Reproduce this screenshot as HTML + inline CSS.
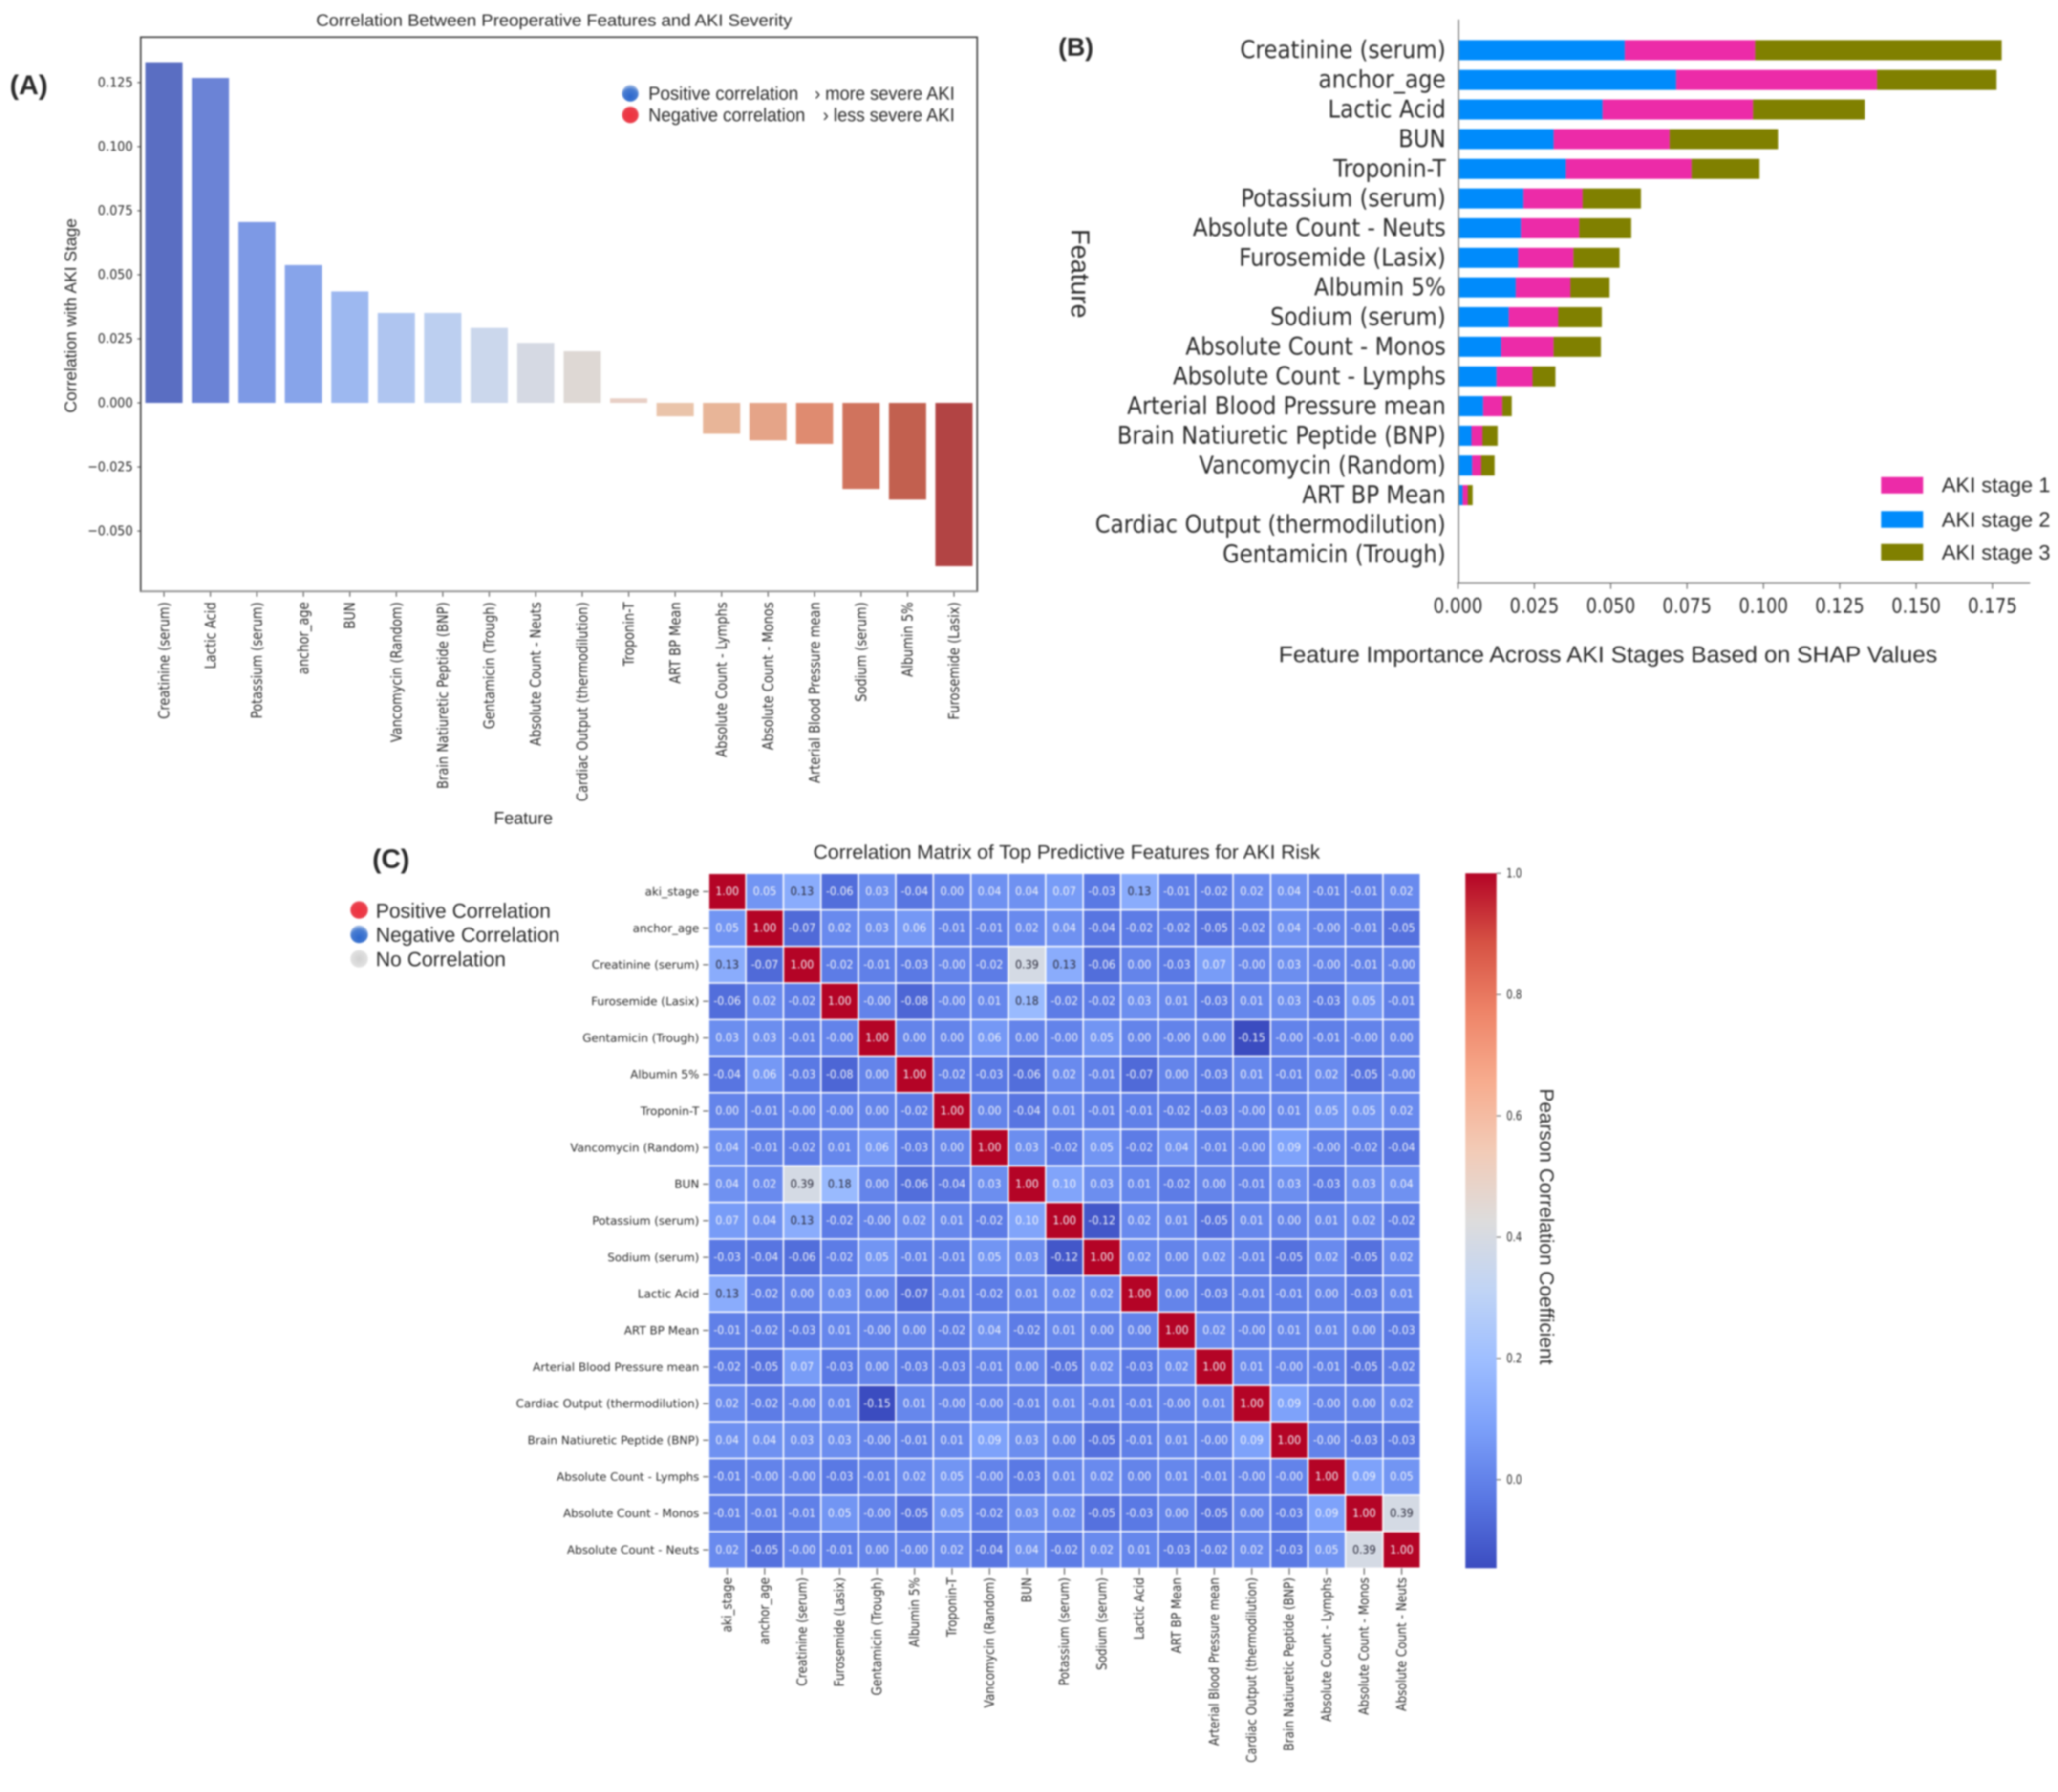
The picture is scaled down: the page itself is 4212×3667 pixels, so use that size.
<!DOCTYPE html>
<html lang="en">
<head>
<meta charset="utf-8">
<title>AKI Feature Analysis</title>
<style>
html,body{margin:0;padding:0;background:#fff;width:4212px;height:3667px;overflow:hidden}
svg{display:block;filter:blur(1.8px)}
text{font-family:"Liberation Sans",sans-serif;fill:#2a2a2a}
text.dv{font-family:"DejaVu Sans","Liberation Sans",sans-serif}
</style>
</head>
<body>
<svg id="figure" xmlns="http://www.w3.org/2000/svg" width="4212" height="3667" viewBox="0 0 4212 3667">
  <defs>
    <radialGradient id="dotBlue" cx="50%" cy="70%" r="65%"><stop offset="0%" stop-color="#2b66cc"/><stop offset="70%" stop-color="#4a7ed2"/><stop offset="100%" stop-color="#9db8e4"/></radialGradient>
    <radialGradient id="dotRed" cx="50%" cy="55%" r="60%"><stop offset="0%" stop-color="#f0323f"/><stop offset="75%" stop-color="#ea3f4c"/><stop offset="100%" stop-color="#f08a90"/></radialGradient>
    <radialGradient id="dotGray" cx="50%" cy="50%" r="60%"><stop offset="0%" stop-color="#d0d0d0"/><stop offset="100%" stop-color="#e6e6e6"/></radialGradient>
    <linearGradient id="cbarGradient" x1="0" y1="1" x2="0" y2="0">
      <stop offset="0" stop-color="#3b4cc0"/><stop offset=".1" stop-color="#5977e3"/><stop offset=".2" stop-color="#7b9ff9"/><stop offset=".3" stop-color="#9ebeff"/><stop offset=".4" stop-color="#c0d4f5"/><stop offset=".5" stop-color="#dddcdc"/><stop offset=".6" stop-color="#f2cbb7"/><stop offset=".7" stop-color="#f7ac8e"/><stop offset=".8" stop-color="#ee8468"/><stop offset=".9" stop-color="#d65244"/><stop offset="1" stop-color="#b40426"/>
    </linearGradient>
  </defs>

  <!-- Panel A -->
  <g id="panelA">
    <text x="20" y="193" font-size="56" font-weight="bold">(A)</text>
    <text x="1134" y="53" font-size="34" text-anchor="middle" textLength="974" lengthAdjust="spacingAndGlyphs">Correlation Between Preoperative Features and AKI Severity</text>
    <text transform="translate(156,646) rotate(-90)" font-size="34" text-anchor="middle" textLength="398" lengthAdjust="spacingAndGlyphs">Correlation with AKI Stage</text>
    <text x="1071" y="1686" font-size="35" text-anchor="middle">Feature</text>
    <g id="aMarks"></g>
    <g id="aAxes"></g>
    <rect x="288" y="76" width="1712" height="1134" fill="none" stroke="#333" stroke-width="3"/>
    <line x1="288" y1="1210" x2="2000" y2="1210" stroke="#999" stroke-width="4"/>
    <g>
      <g>
        <circle cx="1290" cy="191" r="17" fill="url(#dotBlue)"/>
        <text x="1327" y="204" font-size="38" textLength="307" lengthAdjust="spacingAndGlyphs">Positive correlation</text>
        <text x="1954" y="204" font-size="38" text-anchor="end" textLength="287" lengthAdjust="spacingAndGlyphs">› more severe AKI</text>
      </g>
      <g>
        <circle cx="1290" cy="235" r="17" fill="url(#dotRed)"/>
        <text x="1327" y="248" font-size="38" textLength="321" lengthAdjust="spacingAndGlyphs">Negative correlation</text>
        <text x="1954" y="248" font-size="38" text-anchor="end" textLength="270" lengthAdjust="spacingAndGlyphs">› less severe AKI</text>
      </g>
    </g>
  </g>

  <!-- Panel B -->
  <g id="panelB">
    <text x="2166" y="114" font-size="52" font-weight="bold">(B)</text>
    <text transform="translate(2193,560) rotate(90)" font-size="53" text-anchor="middle">Feature</text>
    <text x="3291" y="1355" font-size="46" text-anchor="middle" textLength="1348" lengthAdjust="spacingAndGlyphs">Feature Importance Across AKI Stages Based on SHAP Values</text>
    <g id="bMarks"></g>
    <g id="bAxes"></g>
    <line x1="2985" y1="40" x2="2985" y2="1192" stroke="#8a8a8a" stroke-width="3"/>
    <line x1="2982" y1="1193" x2="4155" y2="1193" stroke="#777" stroke-width="3"/>
    <g>
      <g>
        <rect x="3850" y="976" width="86" height="34" fill="#ec2ba8"/>
        <text x="3974" y="1007" font-size="43">AKI stage 1</text>
      </g>
      <g>
        <rect x="3850" y="1046" width="86" height="34" fill="#008bfb"/>
        <text x="3974" y="1078" font-size="43">AKI stage 2</text>
      </g>
      <g>
        <rect x="3850" y="1113" width="86" height="34" fill="#808000"/>
        <text x="3974" y="1145" font-size="43">AKI stage 3</text>
      </g>
    </g>
  </g>

  <!-- Panel C -->
  <g id="panelC">
    <text x="762" y="1776" font-size="55" font-weight="bold">(C)</text>
    <text x="2183" y="1757" font-size="40" text-anchor="middle" textLength="1037" lengthAdjust="spacingAndGlyphs">Correlation Matrix of Top Predictive Features for AKI Risk</text>
    <g>
      <g>
        <circle cx="735" cy="1862" r="18" fill="url(#dotRed)"/>
        <text x="769" y="1878" font-size="41.3">Positive Correlation</text>
      </g>
      <g>
        <circle cx="735" cy="1912" r="18" fill="url(#dotBlue)"/>
        <text x="769" y="1927" font-size="41.3">Negative Correlation</text>
      </g>
      <g>
        <circle cx="735" cy="1962" r="18" fill="url(#dotGray)"/>
        <text x="769" y="1977" font-size="41.3">No Correlation</text>
      </g>
    </g>
    <g id="cMarks"></g>
    <g id="cAxes"></g>
    <rect x="2999" y="1787" width="64" height="1422" fill="url(#cbarGradient)"/>
    <g id="cbarAxis"></g>
    <text transform="translate(3152,2510) rotate(90)" font-size="40" text-anchor="middle" textLength="565" lengthAdjust="spacingAndGlyphs">Pearson Correlation Coefficient</text>
  </g>
</svg>

<script>
/* ---------- Panel A data ---------- */
const corrFeatures = ["Creatinine (serum)","Lactic Acid","Potassium (serum)","anchor_age","BUN","Vancomycin (Random)","Brain Natiuretic Peptide (BNP)","Gentamicin (Trough)","Absolute Count - Neuts","Cardiac Output (thermodilution)","Troponin-T","ART BP Mean","Absolute Count - Lymphs","Absolute Count - Monos","Arterial Blood Pressure mean","Sodium (serum)","Albumin 5%","Furosemide (Lasix)"];
const corrValues = [0.1329,0.1268,0.0706,0.0538,0.0435,0.0351,0.0351,0.0293,0.0234,0.0202,0.0018,-0.0052,-0.012,-0.0146,-0.016,-0.0336,-0.0377,-0.0637];
const corrPalette = ["#5a6ec2","#6b83d6","#7d99e5","#87a4ea","#9db8f0","#afc5f0","#bccff0","#cbd7ec","#d5d9e3","#ded8d4","#e8cfc5","#eac4aa","#e8b598","#e5a488","#df8b70","#d0735d","#c2604f","#b24444"];
const corrTicks = [0.125,0.1,0.075,0.05,0.025,0,-0.025,-0.05];

/* ---------- Panel B data ---------- */
const shapFeatures = ["Creatinine (serum)","anchor_age","Lactic Acid","BUN","Troponin-T","Potassium (serum)","Absolute Count - Neuts","Furosemide (Lasix)","Albumin 5%","Sodium (serum)","Absolute Count - Monos","Absolute Count - Lymphs","Arterial Blood Pressure mean","Brain Natiuretic Peptide (BNP)","Vancomycin (Random)","ART BP Mean","Cardiac Output (thermodilution)","Gentamicin (Trough)"];
const shapStage2 = [0.0546,0.0714,0.0473,0.0313,0.0353,0.0214,0.0206,0.0197,0.0189,0.0166,0.0141,0.0126,0.0082,0.0044,0.0046,0.0015,0,0];
const shapStage1 = [0.0427,0.0658,0.0493,0.038,0.0412,0.0194,0.0191,0.0181,0.0179,0.0162,0.0172,0.0118,0.0063,0.0036,0.003,0.0017,0,0];
const shapStage3 = [0.0807,0.0391,0.0366,0.0355,0.0222,0.0191,0.017,0.0151,0.0128,0.0143,0.0155,0.0075,0.0031,0.005,0.0044,0.0016,0,0];
const shapTicks = [0,0.025,0.05,0.075,0.1,0.125,0.15,0.175];

/* ---------- Panel C data ---------- */
const matrixLabels = ["aki_stage","anchor_age","Creatinine (serum)","Furosemide (Lasix)","Gentamicin (Trough)","Albumin 5%","Troponin-T","Vancomycin (Random)","BUN","Potassium (serum)","Sodium (serum)","Lactic Acid","ART BP Mean","Arterial Blood Pressure mean","Cardiac Output (thermodilution)","Brain Natiuretic Peptide (BNP)","Absolute Count - Lymphs","Absolute Count - Monos","Absolute Count - Neuts"];
const matrixValues = [
[1,.05,.13,-.06,.03,-.04,.001,.04,.04,.07,-.03,.13,-.01,-.02,.02,.04,-.01,-.01,.02],
[.05,1,-.07,.02,.03,.06,-.01,-.01,.02,.04,-.04,-.02,-.02,-.05,-.02,.04,-.001,-.01,-.05],
[.13,-.07,1,-.02,-.01,-.03,-.001,-.02,.39,.13,-.06,.001,-.03,.07,-.001,.03,-.001,-.01,-.001],
[-.06,.02,-.02,1,-.001,-.08,-.001,.01,.18,-.02,-.02,.03,.01,-.03,.01,.03,-.03,.05,-.01],
[.03,.03,-.01,-.001,1,.001,.001,.06,.001,-.001,.05,.001,-.001,.001,-.15,-.001,-.01,-.001,.001],
[-.04,.06,-.03,-.08,.001,1,-.02,-.03,-.06,.02,-.01,-.07,.001,-.03,.01,-.01,.02,-.05,-.001],
[.001,-.01,-.001,-.001,.001,-.02,1,.001,-.04,.01,-.01,-.01,-.02,-.03,-.001,.01,.05,.05,.02],
[.04,-.01,-.02,.01,.06,-.03,.001,1,.03,-.02,.05,-.02,.04,-.01,-.001,.09,-.001,-.02,-.04],
[.04,.02,.39,.18,.001,-.06,-.04,.03,1,.10,.03,.01,-.02,.001,-.01,.03,-.03,.03,.04],
[.07,.04,.13,-.02,-.001,.02,.01,-.02,.10,1,-.12,.02,.01,-.05,.01,.001,.01,.02,-.02],
[-.03,-.04,-.06,-.02,.05,-.01,-.01,.05,.03,-.12,1,.02,.001,.02,-.01,-.05,.02,-.05,.02],
[.13,-.02,.001,.03,.001,-.07,-.01,-.02,.01,.02,.02,1,.001,-.03,-.01,-.01,.001,-.03,.01],
[-.01,-.02,-.03,.01,-.001,.001,-.02,.04,-.02,.01,.001,.001,1,.02,-.001,.01,.01,.001,-.03],
[-.02,-.05,.07,-.03,.001,-.03,-.03,-.01,.001,-.05,.02,-.03,.02,1,.01,-.001,-.01,-.05,-.02],
[.02,-.02,-.001,.01,-.15,.01,-.001,-.001,-.01,.01,-.01,-.01,-.001,.01,1,.09,-.001,.001,.02],
[.04,.04,.03,.03,-.001,-.01,.01,.09,.03,.001,-.05,-.01,.01,-.001,.09,1,-.001,-.03,-.03],
[-.01,-.001,-.001,-.03,-.01,.02,.05,-.001,-.03,.01,.02,.001,.01,-.01,-.001,-.001,1,.09,.05],
[-.01,-.01,-.01,.05,-.001,-.05,.05,-.02,.03,.02,-.05,-.03,.001,-.05,.001,-.03,.09,1,.39],
[.02,-.05,-.001,-.01,.001,-.001,.02,-.04,.04,-.02,.02,.01,-.03,-.02,.02,-.03,.05,.39,1]
];
const colorbarTicks = [1,0.8,0.6,0.4,0.2,0];

/* ---------- Helpers ---------- */
const NS = "http://www.w3.org/2000/svg";
function make(parentId, tag, attrs, txt) {
  const e = document.createElementNS(NS, tag);
  for (const k in attrs) e.setAttribute(k, attrs[k]);
  if (txt !== undefined) e.textContent = txt;
  document.getElementById(parentId).appendChild(e);
  return e;
}
function slug(s) { return s.toLowerCase().replace(/[^a-z0-9]+/g, '-').replace(/^-|-$/g, ''); }

/* Coolwarm colormap (vmin -0.15, vmax 1) */
const coolwarm = [[59,76,192],[89,119,227],[123,159,249],[158,190,255],[192,212,245],[221,220,220],[242,203,183],[247,172,142],[238,132,104],[214,82,68],[180,4,38]];
function heatColor(v) {
  const t = Math.max(0, Math.min(1, (v + 0.15) / 1.15)) * 10;
  const i = Math.min(9, Math.floor(t));
  const f = t - i;
  const c = coolwarm[i].map((a, k) => Math.round(a + (coolwarm[i + 1][k] - a) * f));
  return "rgb(" + c.join(",") + ")";
}

/* ---------- Panel A scales and marks ---------- */
const aLeft = 288, aRight = 2000, aBottom = 1210;
const aBand = (aRight - aLeft) / corrValues.length;
const aX = i => aLeft + (i + 0.5) * aBand;
const aY = v => 824.5 - v * 5244;

corrValues.forEach((v, i) => {
  const bar = make("aMarks", "rect", {x: aX(i) - aBand * 0.4, y: Math.min(aY(v), aY(0)), width: aBand * 0.8, height: Math.abs(aY(v) - aY(0)), fill: corrPalette[i]});
  
  
  const tick = make("aAxes", "line", {x1: aX(i), x2: aX(i), y1: aBottom, y2: aBottom + 11, stroke: "#444", "stroke-width": 2});
  
  
  const lab = make("aAxes", "text", {"class": "dv", transform: "translate(" + aX(i) + ",1232) rotate(-90) scale(.849,1)", "font-size": 30, "text-anchor": "end", "dominant-baseline": "central"}, corrFeatures[i]);
  
  
});
corrTicks.forEach(v => {
  const tick = make("aAxes", "line", {x1: aLeft - 7, x2: aLeft, y1: aY(v), y2: aY(v), stroke: "#444", "stroke-width": 2});
  
  
  const lab = make("aAxes", "text", {"class": "dv", transform: "translate(272," + aY(v) + ") scale(.93,1)", "font-size": 27, "text-anchor": "end", "dominant-baseline": "central"}, (v < 0 ? "\u2212" : "") + Math.abs(v).toFixed(3));
  
  
});

/* ---------- Panel B scales and marks ---------- */
const bX = v => 2984 + v * 6251;
const bY = i => 102.7 + i * 60.7;
const bBarH = 41;

shapFeatures.forEach((name, i) => {
  const a = shapStage2[i], b = shapStage1[i], c = shapStage3[i];
  const s2 = make("bMarks", "rect", {x: bX(0), y: bY(i) - bBarH / 2, width: bX(a) - bX(0), height: bBarH, fill: "#008bfb"});
  
  
  const s1 = make("bMarks", "rect", {x: bX(a), y: bY(i) - bBarH / 2, width: bX(a + b) - bX(a), height: bBarH, fill: "#ec2ba8"});
  
  
  const s3 = make("bMarks", "rect", {x: bX(a + b), y: bY(i) - bBarH / 2, width: bX(a + b + c) - bX(a + b), height: bBarH, fill: "#808000"});
  
  
  const lab = make("bAxes", "text", {"class": "dv", transform: "translate(2959," + bY(i) + ") scale(.905,1)", "font-size": 49.5, "text-anchor": "end", "dominant-baseline": "central"}, name);
  
  
});
shapTicks.forEach(v => {
  const tick = make("bAxes", "line", {x1: bX(v), x2: bX(v), y1: 1193, y2: 1205, stroke: "#555", "stroke-width": 2});
  
  
  const lab = make("bAxes", "text", {"class": "dv", transform: "translate(" + bX(v) + ",1254) scale(.84,1)", "font-size": 42, "text-anchor": "middle"}, v.toFixed(3));
  
  
});

/* ---------- Panel C scales and marks ---------- */
const hLeft = 1450, hTop = 1787, hW = 1457 / matrixLabels.length, hH = 1422 / matrixLabels.length;
const hX = i => hLeft + i * hW;
const hY = i => hTop + i * hH;

matrixValues.forEach((row, r) => {
  row.forEach((v, c) => {
    const cell = make("cMarks", "rect", {x: hX(c) + 1.5, y: hY(r) + 1.5, width: hW - 3, height: hH - 3, fill: heatColor(v)});
    
    
    const dark = v >= 0.12 && v < 1;
    const val = make("cMarks", "text", {"class": "dv", transform: "translate(" + (hX(c) + hW / 2) + "," + (hY(r) + hH / 2) + ") scale(.94,1)", "font-size": 23, "text-anchor": "middle", "dominant-baseline": "central", style: "fill:" + (dark ? "#2a2a3a" : "#f2f4fa")}, v.toFixed(2));
    
    
  });
});
matrixLabels.forEach((name, i) => {
  const yTick = make("cAxes", "line", {x1: hLeft - 11, x2: hLeft, y1: hY(i) + hH / 2, y2: hY(i) + hH / 2, stroke: "#444", "stroke-width": 2});
  
  
  const yLab = make("cAxes", "text", {"class": "dv", x: 1431, y: hY(i) + hH / 2, "font-size": 23.4, "text-anchor": "end", "dominant-baseline": "central"}, name);
  
  
  const xTick = make("cAxes", "line", {x1: hX(i) + hW / 2, x2: hX(i) + hW / 2, y1: 3209, y2: 3222, stroke: "#444", "stroke-width": 2});
  
  
  const xLab = make("cAxes", "text", {"class": "dv", transform: "translate(" + (hX(i) + hW / 2) + ",3228) rotate(-90) scale(.845,1)", "font-size": 28, "text-anchor": "end", "dominant-baseline": "central"}, name);
  
  
});

/* ---------- Colorbar axis ---------- */
const cbY = v => 3028 - v * 1241;
colorbarTicks.forEach(v => {
  const tick = make("cbarAxis", "line", {x1: 3063, x2: 3072, y1: cbY(v), y2: cbY(v), stroke: "#666", "stroke-width": 2});
  
  
  const lab = make("cbarAxis", "text", {"class": "dv", transform: "translate(3083," + cbY(v) + ") scale(.77,1)", "font-size": 26, "dominant-baseline": "central"}, v.toFixed(1));
  
  
});
</script>
</body>
</html>
